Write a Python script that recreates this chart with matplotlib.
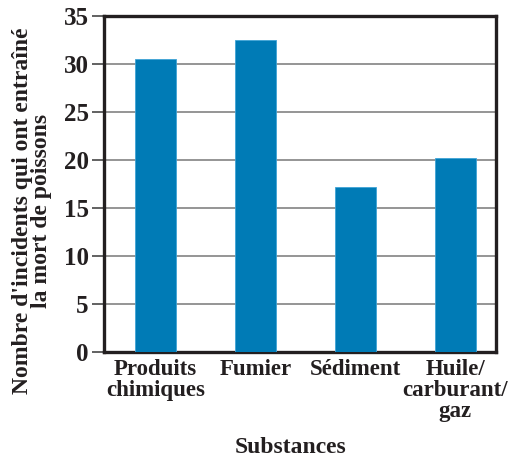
import matplotlib.pyplot as plt
import numpy as np

# Données
categories = ['Produits\nchimiques', 'Fumier', 'Sédiment', 'Huile/\ncarburant/\ngaz']
incidents = [30.5, 32.5, 17.2, 20.2]
yticks = [0, 5, 10, 15, 20, 25, 30, 35]

plt.rcParams['font.family'] = ['Liberation Serif', 'DejaVu Serif']
plt.rcParams['font.weight'] = 'bold'

fig = plt.figure(figsize=(5.08, 4.59), dpi=100)
ax = fig.add_axes([0.2047, 0.2331, 0.7717, 0.732])

x = np.arange(len(categories))
ax.bar(x, incidents, width=0.41, color='#007bb6', edgecolor='#3fa3d6', linewidth=0.6, zorder=3)

ax.set_ylim(0, 35)
ax.set_xlim(-0.515, 3.41)
ax.set_yticks(yticks)
ax.set_yticklabels([str(t) for t in yticks], fontsize=18, fontweight='bold', color='#231f20')
ax.set_xticks(x)
ax.set_xticklabels(categories, fontsize=16.5, fontweight='bold', color='#231f20', linespacing=1.0)
ax.tick_params(axis='x', length=0, pad=5)
ax.tick_params(axis='y', length=9, width=1.3, color='#555555', pad=2)

ax.grid(axis='y', color='#8c8c8c', linewidth=1.3, zorder=0)
for s in ax.spines.values():
    s.set_linewidth(2.4)
    s.set_color('#231f20')

ax.set_xlabel('Substances', fontsize=17, fontweight='bold', color='#231f20')
ax.xaxis.set_label_coords(0.477, -0.253)
ax.set_ylabel("Nombre d'incidents qui ont entraîné\nla mort de poissons", fontsize=17,
              fontweight='bold', color='#231f20', linespacing=0.85)
ax.yaxis.set_label_coords(-0.133, 0.42)

fig.savefig('out.png', dpi=100)
